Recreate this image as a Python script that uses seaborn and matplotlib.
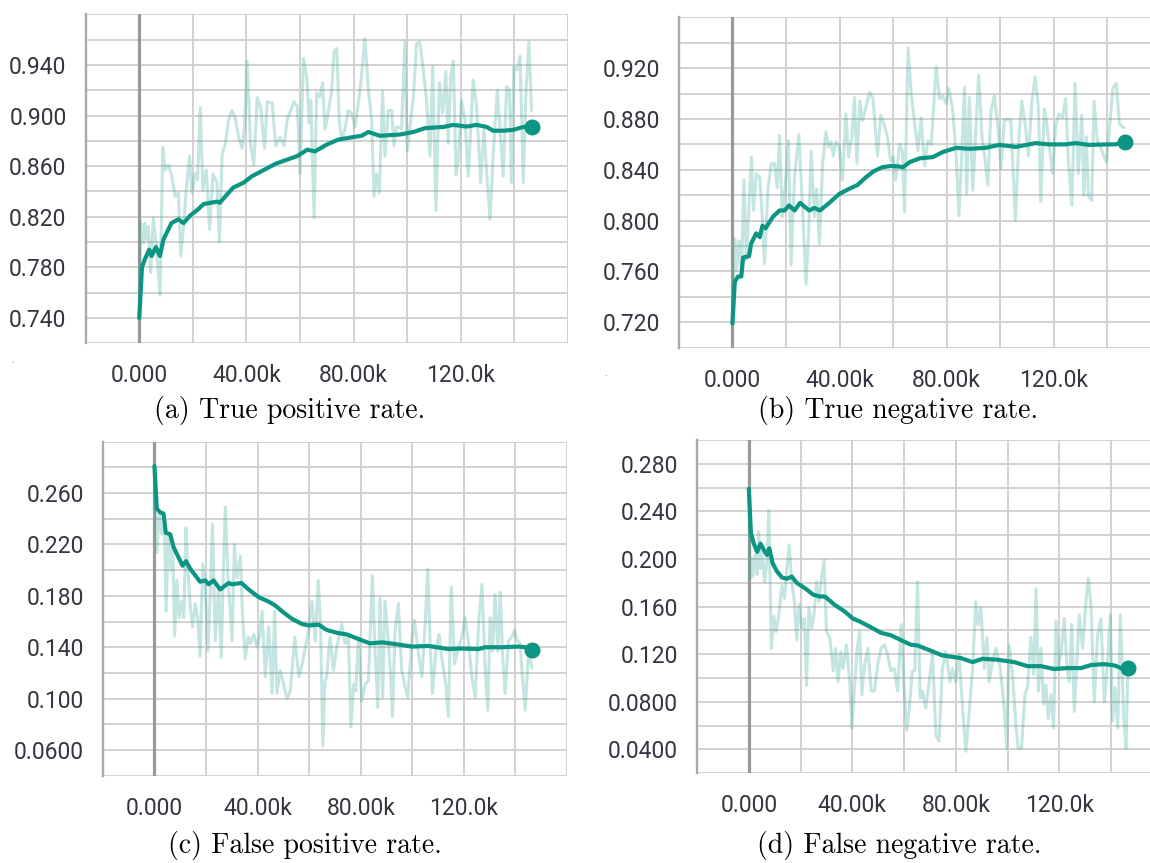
import matplotlib.pyplot as plt
import numpy as np
import seaborn as sns

# ---- data (steps in thousands) ----
# (a) true positive rate
TPR_RAW_STEPS = [0, 0.5, 1.5, 2.1, 2.75, 3.4, 4.25, 5.25, 6.25, 7.75, 8.75, 9.6, 10.9, 12.1, 13.4, 14.6, 15.5,
                 16.5, 17.5, 18.75, 19.6, 20.9, 21.75, 22.75, 23.75, 25, 26.25, 27.5, 29, 29.9, 30.9, 32.1, 33.4,
                 34.6, 35.9, 37.1, 38.4, 39.25, 40.25, 41.5, 42.75, 44, 45.25, 46.75, 47.75, 49.6, 50.9, 52.5, 54,
                 55.25, 56.5, 57.75, 59, 60, 61.25, 62.5, 63.4, 64, 65.25, 66.2, 67.4, 68.4, 69.3, 70.5, 71.8, 72.7,
                 73.7, 74.6, 75.5, 76.8, 78, 79.2, 80.5, 82.4, 84.2, 85.5, 86.7, 87.6, 88.6, 89.6, 90.8, 91.7, 92.9,
                 94.2, 95, 96, 97.9, 99.1, 100, 101, 102.3, 103.5, 104.7, 106, 107.2, 108.5, 109.5, 110.7, 112,
                 113.2, 114.4, 115.3, 116.2, 117.2, 118.2, 119, 120.3, 121.5, 122.8, 124.6, 125.9, 127.4, 128.6,
                 129.6, 130.9, 132.1, 133.6, 134.6, 135.8, 137.1, 138.1, 138.9, 139.8, 141.1, 142.1, 143.3, 144.3,
                 145.4, 146.4]
TPR_RAW = [0.740, 0.816, 0.799, 0.815, 0.802, 0.812, 0.776, 0.819, 0.799, 0.758, 0.875, 0.857, 0.861, 0.852, 0.836,
           0.839, 0.789, 0.812, 0.841, 0.868, 0.839, 0.854, 0.849, 0.906, 0.841, 0.857, 0.810, 0.854, 0.847, 0.800,
           0.869, 0.878, 0.897, 0.904, 0.897, 0.883, 0.874, 0.891, 0.943, 0.878, 0.861, 0.914, 0.907, 0.874, 0.911,
           0.910, 0.876, 0.883, 0.876, 0.897, 0.904, 0.911, 0.907, 0.854, 0.945, 0.931, 0.894, 0.912, 0.819, 0.918,
           0.915, 0.926, 0.889, 0.902, 0.920, 0.951, 0.953, 0.897, 0.880, 0.890, 0.904, 0.902, 0.891, 0.920, 0.961,
           0.920, 0.897, 0.836, 0.854, 0.839, 0.919, 0.868, 0.904, 0.904, 0.876, 0.891, 0.890, 0.958, 0.872, 0.891,
           0.915, 0.957, 0.958, 0.936, 0.912, 0.868, 0.939, 0.825, 0.926, 0.902, 0.935, 0.878, 0.931, 0.943, 0.853,
           0.865, 0.912, 0.897, 0.852, 0.928, 0.907, 0.847, 0.889, 0.857, 0.818, 0.870, 0.920, 0.891, 0.852, 0.923,
           0.920, 0.847, 0.939, 0.936, 0.947, 0.847, 0.918, 0.958, 0.904]
TPR_SMOOTH_STEPS = [0, 1, 2, 3.7, 4.6, 6.2, 7.7, 9, 12, 14.6, 16.5, 19, 22, 24, 26.5, 29, 30, 35, 39, 42, 46.5, 51,
                    55, 59, 62.7, 65.6, 69.9, 74.3, 79.9, 83, 85.5, 89.8, 97.3, 102.3, 106.6, 113.5, 117.2, 122.2,
                    125.9, 129.6, 132.1, 135.8, 139.6, 143.3, 146.5]
TPR_SMOOTH = [0.740, 0.780, 0.786, 0.794, 0.789, 0.796, 0.789, 0.802, 0.815, 0.818, 0.815, 0.821, 0.826, 0.830,
              0.831, 0.832, 0.831, 0.843, 0.847, 0.852, 0.857, 0.862, 0.865, 0.868, 0.873, 0.8717, 0.877, 0.881,
              0.883, 0.884, 0.887, 0.884, 0.885, 0.887, 0.890, 0.891, 0.8926, 0.8913, 0.8926, 0.891, 0.888, 0.888,
              0.8887, 0.891, 0.8913]

# (b) true negative rate
TNR_RAW_STEPS = [0, 0.87, 1.5, 2.5, 3.35, 4.3, 5.2, 6.2, 7.1, 7.9, 8.9, 10.2, 11, 12, 13.3, 14.5, 15.7, 16.7, 17.6,
                 18.6, 19.8, 20.9, 21.9, 23.2, 24.8, 26, 27.5, 28.5, 29.4, 30.6, 31.5, 32.5, 33.7, 34.9, 35.9, 36.8,
                 37.7, 38.7, 39.9, 41.1, 42.4, 43.4, 44.6, 45.6, 46.5, 47.6, 48.6, 49.8, 51.3, 52.5, 54.2, 55.4,
                 56.6, 57.9, 59.1, 60, 61, 62.5, 63.5, 64.3, 65.6, 66.8, 68.1, 69.3, 70.5, 71.8, 73, 74.3, 76.1,
                 77.4, 78.6, 79.9, 80.8, 82.3, 83.6, 84.6, 85.4, 86.7, 87.5, 88.5, 89.8, 90.8, 92, 93.3, 94.1, 95.4,
                 96.6, 97.8, 99.1, 100.3, 101.6, 102.8, 104, 105.7, 107.1, 108.1, 109.4, 110.6, 111.9, 113.1, 114.3,
                 115.2, 116.5, 117.3, 118.3, 119.6, 120.8, 122, 123.3, 124.5, 125.5, 126.8, 128, 129.2, 130.5, 131.3,
                 132.2, 133, 134.2, 135.1, 136.3, 137.5, 138.8, 139.7, 140.6, 142.1, 143.4, 144.6, 146.2]
TNR_RAW = [0.719, 0.786, 0.761, 0.784, 0.758, 0.832, 0.769, 0.811, 0.850, 0.808, 0.837, 0.834, 0.808, 0.766, 0.826,
           0.845, 0.845, 0.826, 0.867, 0.803, 0.829, 0.863, 0.765, 0.834, 0.868, 0.818, 0.750, 0.792, 0.855, 0.803,
           0.825, 0.782, 0.845, 0.870, 0.858, 0.862, 0.851, 0.862, 0.859, 0.832, 0.884, 0.850, 0.866, 0.897, 0.845,
           0.894, 0.879, 0.889, 0.901, 0.896, 0.851, 0.883, 0.876, 0.866, 0.847, 0.850, 0.832, 0.860, 0.855, 0.807,
           0.936, 0.900, 0.876, 0.855, 0.881, 0.843, 0.863, 0.860, 0.921, 0.896, 0.898, 0.892, 0.904, 0.887, 0.850,
           0.804, 0.839, 0.905, 0.821, 0.897, 0.824, 0.866, 0.914, 0.864, 0.853, 0.828, 0.887, 0.898, 0.876, 0.841,
           0.879, 0.880, 0.879, 0.800, 0.868, 0.894, 0.875, 0.851, 0.894, 0.913, 0.889, 0.815, 0.888, 0.879, 0.860,
           0.837, 0.875, 0.884, 0.881, 0.896, 0.847, 0.812, 0.908, 0.837, 0.883, 0.820, 0.866, 0.819, 0.816, 0.894,
           0.863, 0.858, 0.851, 0.846, 0.866, 0.904, 0.908, 0.876, 0.873]
TNR_SMOOTH_STEPS = [0, 0.9, 2.1, 3.3, 4, 6.2, 7, 8.9, 10.2, 11.2, 12.4, 15.1, 17.6, 19.5, 21.1, 23.2, 25.3, 26.9,
                    28.7, 30.6, 32.7, 36.2, 39.9, 43.6, 46.7, 49.8, 52.9, 56, 59.1, 62.2, 63.7, 66.2, 69.9, 74.9,
                    78.6, 83.6, 88.5, 94.7, 99.7, 105.9, 113.3, 118.3, 124.5, 128.2, 133.2, 140.6, 143.1, 146.5]
TNR_SMOOTH = [0.719, 0.752, 0.756, 0.756, 0.771, 0.772, 0.782, 0.790, 0.787, 0.796, 0.794, 0.803, 0.808, 0.808,
              0.812, 0.808, 0.814, 0.811, 0.808, 0.810, 0.808, 0.814, 0.821, 0.825, 0.828, 0.834, 0.839, 0.842,
              0.843, 0.8426, 0.842, 0.846, 0.849, 0.850, 0.854, 0.8573, 0.8565, 0.8573, 0.8596, 0.858, 0.861,
              0.860, 0.860, 0.861, 0.8596, 0.860, 0.860, 0.8617]

# (c) false positive rate
FPR_RAW_STEPS = [0, 0.5, 1, 1.8, 2.85, 3.9, 4.5, 5.4, 6.5, 7.1, 7.8, 8.7, 9.6, 10.6, 11.4, 12.2, 13, 13.9, 14.8,
                 15.8, 16.8, 17.7, 18.7, 19.7, 20.7, 21.6, 22.5, 23.6, 24.9, 25.9, 26.8, 27.5, 28.5, 30.1, 31, 32,
                 33.3, 34.2, 35.2, 36.3, 37.2, 38.5, 39.8, 40.7, 41.7, 43, 44.3, 45.6, 46.6, 47.5, 48.8, 50.1, 51.4,
                 52.7, 54.4, 56, 57.3, 58.8, 59.8, 61.1, 62.4, 63.5, 64.4, 65.3, 66.1, 66.8, 68.1, 69.4, 70.7, 72.6,
                 73.9, 75.2, 76.2, 77.2, 78.1, 79.1, 80.4, 81.7, 83, 84.5, 85.6, 86.6, 87.5, 88.5, 89.4, 90.5, 91.4,
                 92.3, 93.3, 94.6, 95.9, 97.2, 98.2, 99.8, 100.8, 102.4, 103.7, 105, 106, 106.9, 107.8, 109.1, 110.4,
                 111.4, 113, 114, 115.1, 116.4, 117.6, 119.2, 120.5, 121.8, 123.1, 124.4, 125.7, 127, 128.3, 129.3,
                 130.2, 131.1, 132.1, 133.2, 134.1, 135, 136, 137.3, 138.6, 139.6, 140.7, 141.8, 142.7, 143.8,
                 145.1, 146.4]
FPR_RAW = [0.281, 0.241, 0.214, 0.244, 0.228, 0.236, 0.168, 0.226, 0.200, 0.218, 0.149, 0.192, 0.163, 0.176, 0.163,
           0.233, 0.200, 0.171, 0.156, 0.174, 0.162, 0.133, 0.205, 0.187, 0.137, 0.179, 0.236, 0.145, 0.187, 0.132,
           0.207, 0.249, 0.194, 0.145, 0.220, 0.194, 0.211, 0.163, 0.131, 0.148, 0.143, 0.150, 0.140, 0.148, 0.168,
           0.117, 0.156, 0.104, 0.168, 0.104, 0.122, 0.111, 0.100, 0.106, 0.148, 0.117, 0.127, 0.143, 0.153, 0.176,
           0.145, 0.192, 0.158, 0.063, 0.114, 0.117, 0.148, 0.122, 0.140, 0.158, 0.143, 0.148, 0.078, 0.111, 0.106,
           0.148, 0.098, 0.111, 0.114, 0.196, 0.135, 0.093, 0.178, 0.101, 0.176, 0.150, 0.124, 0.086, 0.153, 0.174,
           0.122, 0.109, 0.101, 0.143, 0.161, 0.135, 0.117, 0.158, 0.201, 0.143, 0.104, 0.137, 0.150, 0.132, 0.111,
           0.086, 0.187, 0.127, 0.137, 0.148, 0.163, 0.143, 0.117, 0.101, 0.158, 0.189, 0.122, 0.091, 0.163, 0.137,
           0.181, 0.137, 0.183, 0.135, 0.104, 0.145, 0.148, 0.153, 0.145, 0.143, 0.117, 0.091, 0.137, 0.124]
FPR_SMOOTH_STEPS = [0, 0.9, 2.2, 3.5, 4.4, 6.1, 7.4, 9.3, 10.9, 12.2, 13.9, 15.8, 17.7, 19.7, 21, 22.9, 25.5, 26.8,
                    28.8, 30, 33.7, 36.5, 40.4, 44.3, 46.9, 50.1, 53.4, 57.3, 59.8, 63.7, 66.3, 67.5, 71.3, 74.6,
                    79.1, 83.6, 88.2, 93.3, 99.8, 106.3, 114, 119.2, 125.7, 128.3, 134.7, 141.2, 143.8, 146.5]
FPR_SMOOTH = [0.281, 0.248, 0.245, 0.244, 0.229, 0.228, 0.218, 0.210, 0.2035, 0.207, 0.201, 0.196, 0.191, 0.192,
              0.189, 0.192, 0.185, 0.187, 0.190, 0.189, 0.190, 0.185, 0.179, 0.1755, 0.1724, 0.167, 0.162, 0.158,
              0.157, 0.1576, 0.154, 0.153, 0.151, 0.150, 0.1464, 0.143, 0.1438, 0.1425, 0.1405, 0.141, 0.1386,
              0.139, 0.1386, 0.140, 0.140, 0.1405, 0.140, 0.138]

# (d) false negative rate
FNR_RAW_STEPS = [0, 0.5, 1, 1.5, 2.3, 3.2, 3.8, 4.5, 5.1, 6.1, 7, 7.7, 8.7, 9.6, 10.5, 11.5, 12.8, 13.8, 14.7, 15.6,
                 16.6, 17.6, 18.5, 19.4, 20.4, 21.5, 22.3, 23.2, 24.3, 25.3, 26.2, 27.1, 28.1, 29.1, 30, 31.3, 32.6,
                 33.5, 34.5, 35.5, 36.4, 37.7, 39, 39.8, 40.9, 41.9, 42.8, 43.7, 44.7, 46, 47.3, 48.5, 49.8, 51.1,
                 52.4, 53.6, 54.9, 56.2, 57.5, 58.9, 59.8, 61, 61.9, 63.2, 64.1, 65.2, 66.2, 67.1, 68.4, 69.7, 71,
                 72.3, 73.5, 74.8, 76.1, 77.8, 78.7, 80, 81.3, 82.6, 83.9, 85.2, 86.5, 87.7, 88.6, 89.7, 91, 92,
                 92.9, 94.2, 95.5, 97.2, 98.5, 99.7, 100.6, 101.9, 103.2, 104.1, 105.4, 106.7, 107.7, 109, 110.1,
                 111, 111.9, 112.9, 113.9, 114.8, 115.7, 116.8, 117.8, 118.7, 119.6, 120.6, 121.9, 123, 123.9, 124.8,
                 125.8, 126.8, 127.7, 129, 130.3, 131.2, 132.3, 133.5, 134.8, 136.1, 137.4, 138.7, 139.7, 140.6,
                 141.5, 142.6, 143.6, 144.9, 145.8, 146.5]
FNR_RAW = [0.259, 0.184, 0.201, 0.185, 0.2035, 0.187, 0.223, 0.192, 0.206, 0.181, 0.198, 0.241, 0.125, 0.152, 0.139,
           0.152, 0.178, 0.167, 0.192, 0.212, 0.181, 0.164, 0.132, 0.162, 0.142, 0.150, 0.094, 0.159, 0.142, 0.156,
           0.181, 0.164, 0.185, 0.199, 0.139, 0.134, 0.106, 0.125, 0.097, 0.122, 0.108, 0.128, 0.097, 0.058, 0.094,
           0.125, 0.139, 0.086, 0.111, 0.125, 0.089, 0.089, 0.111, 0.125, 0.128, 0.120, 0.106, 0.108, 0.089, 0.145,
           0.100, 0.056, 0.072, 0.106, 0.106, 0.181, 0.083, 0.089, 0.075, 0.097, 0.120, 0.052, 0.047, 0.108, 0.122,
           0.097, 0.108, 0.097, 0.120, 0.075, 0.0385, 0.072, 0.108, 0.164, 0.145, 0.159, 0.108, 0.134, 0.097, 0.114,
           0.125, 0.108, 0.080, 0.041, 0.128, 0.103, 0.061, 0.041, 0.041, 0.086, 0.092, 0.134, 0.103, 0.175, 0.089,
           0.125, 0.078, 0.094, 0.066, 0.086, 0.058, 0.148, 0.108, 0.120, 0.150, 0.108, 0.097, 0.145, 0.072, 0.114,
           0.153, 0.125, 0.164, 0.184, 0.159, 0.080, 0.136, 0.150, 0.080, 0.114, 0.153, 0.064, 0.092, 0.058, 0.153,
           0.066, 0.041, 0.108]
FNR_SMOOTH_STEPS = [0, 0.8, 1.9, 3.2, 4.5, 5.7, 7, 7.9, 9.2, 10.9, 12.8, 14.7, 16.6, 18.5, 21.7, 24.9, 27.5, 29.4,
                    33.2, 37, 40.2, 43.4, 47.3, 51.1, 54.9, 58.7, 62.6, 65.2, 70.3, 74.8, 81.9, 86.5, 90.3, 96.1,
                    102.6, 107.7, 112.9, 118, 123.2, 128.4, 132.3, 137.4, 141.3, 143.9, 146.5]
FNR_SMOOTH = [0.259, 0.222, 0.213, 0.206, 0.213, 0.208, 0.2035, 0.209, 0.1965, 0.1895, 0.1845, 0.1834, 0.1853,
              0.180, 0.1755, 0.170, 0.1685, 0.1685, 0.1615, 0.156, 0.150, 0.147, 0.1425, 0.138, 0.136, 0.132,
              0.128, 0.1274, 0.123, 0.119, 0.1168, 0.1134, 0.1162, 0.1154, 0.1134, 0.110, 0.110, 0.1076, 0.1084,
              0.1084, 0.111, 0.1117, 0.1106, 0.1084, 0.1084]

X_LABELS = {0: "0.000", 40: "40.00k", 80: "80.00k", 120: "120.0k"}
TPR_YLABELS = ["0.740", "0.780", "0.820", "0.860", "0.900", "0.940"]
TNR_YLABELS = ["0.720", "0.760", "0.800", "0.840", "0.880", "0.920"]
FPR_YLABELS = ["0.0600", "0.100", "0.140", "0.180", "0.220", "0.260"]
FNR_YLABELS = ["0.0400", "0.0800", "0.120", "0.160", "0.200", "0.240", "0.280"]
CAPTIONS = ["(a) True positive rate.", "(b) True negative rate.",
            "(c) False positive rate.", "(d) False negative rate."]

# ---- style ----
TEAL = "#0b9582"
GRID = "#cfcfcf"
TEXT = "#35353f"

sns.set_style("white")
plt.rcParams["font.family"] = ["Roboto", "DejaVu Sans"]

W, H = 1150, 863
fig = plt.figure(figsize=(W / 100, H / 100), dpi=100)

# panel boxes in pixels: left(-20k), top, right(160k), bottom, plus y range
panels = [
    dict(box=(85.7, 14.3, 568, 343.3), ylim=(0.72, 0.98), ylabels=TPR_YLABELS,
         raw=(TPR_RAW_STEPS, TPR_RAW), smooth=(TPR_SMOOTH_STEPS, TPR_SMOOTH), cap=(290, 410)),
    dict(box=(678.9, 17.3, 1160.7, 347.7), ylim=(0.70, 0.96), ylabels=TNR_YLABELS,
         raw=(TNR_RAW_STEPS, TNR_RAW), smooth=(TNR_SMOOTH_STEPS, TNR_SMOOTH), cap=(898, 410)),
    dict(box=(102.9, 441.7, 567, 775.7), ylim=(0.04, 0.30), ylabels=FPR_YLABELS,
         raw=(FPR_RAW_STEPS, FPR_RAW), smooth=(FPR_SMOOTH_STEPS, FPR_SMOOTH), cap=(305, 845)),
    dict(box=(697.1, 440, 1162.8, 773.3), ylim=(0.02, 0.30), ylabels=FNR_YLABELS,
         raw=(FNR_RAW_STEPS, FNR_RAW), smooth=(FNR_SMOOTH_STEPS, FNR_SMOOTH), cap=(899, 845)),
]

x_grid = list(range(-20, 161, 20))

for p, caption in zip(panels, CAPTIONS):
    l, t, r, b = p["box"]
    ax = fig.add_axes([l / W, 1 - b / H, (r - l) / W, (b - t) / H])
    ylo, yhi = p["ylim"]

    sns.lineplot(x=p["raw"][0], y=p["raw"][1], ax=ax, color=TEAL, alpha=0.24, lw=2.2, zorder=3)
    sns.lineplot(x=p["smooth"][0], y=p["smooth"][1], ax=ax, color=TEAL, lw=3.0, zorder=4)
    ax.scatter(p["smooth"][0][-1:], p["smooth"][1][-1:], s=110, color=TEAL, zorder=5, clip_on=False)
    ax.axvline(0, color="#999999", lw=2.3, zorder=2)

    ax.set_xlim(-20, 160)
    ax.set_ylim(ylo, yhi)
    ax.set_xticks(x_grid)
    ax.set_xticklabels([X_LABELS.get(v, "") for v in x_grid])
    y_grid = np.round(np.arange(ylo, yhi + 0.001, 0.02), 3)
    labmap = {round(float(s), 3): s for s in p["ylabels"]}
    ax.set_yticks(y_grid)
    ax.set_yticklabels([labmap.get(round(float(v), 3), "") for v in y_grid])

    ax.grid(True, color=GRID, lw=1.3, zorder=1)
    ax.set_axisbelow(True)
    ax.tick_params(axis="both", direction="out", length=6.5, width=1.3, color=GRID,
                   labelsize=16.5, labelcolor=TEXT)
    ax.tick_params(axis="y", pad=7.3)
    ax.tick_params(axis="x", pad=8.5)
    for s in ["top", "right", "bottom"]:
        ax.spines[s].set_visible(False)
    ax.spines["left"].set_color("#aaaaaa")
    ax.spines["left"].set_linewidth(1.7)
    ax.set_xlabel("")
    ax.set_ylabel("")

    fig.text(p["cap"][0] / W, 1 - p["cap"][1] / H, caption, ha="center", va="center",
             fontfamily="cmr10", fontsize=20, color="black")

# small stray marks present in the source figure
fig.text(12.5 / W, 1 - 360 / H, ".", fontsize=7, color="#555555", ha="center", va="center")
fig.text(605.5 / W, 1 - 373 / H, ".", fontsize=7, color="#555555", ha="center", va="center")

fig.savefig("out.png", dpi=100)
